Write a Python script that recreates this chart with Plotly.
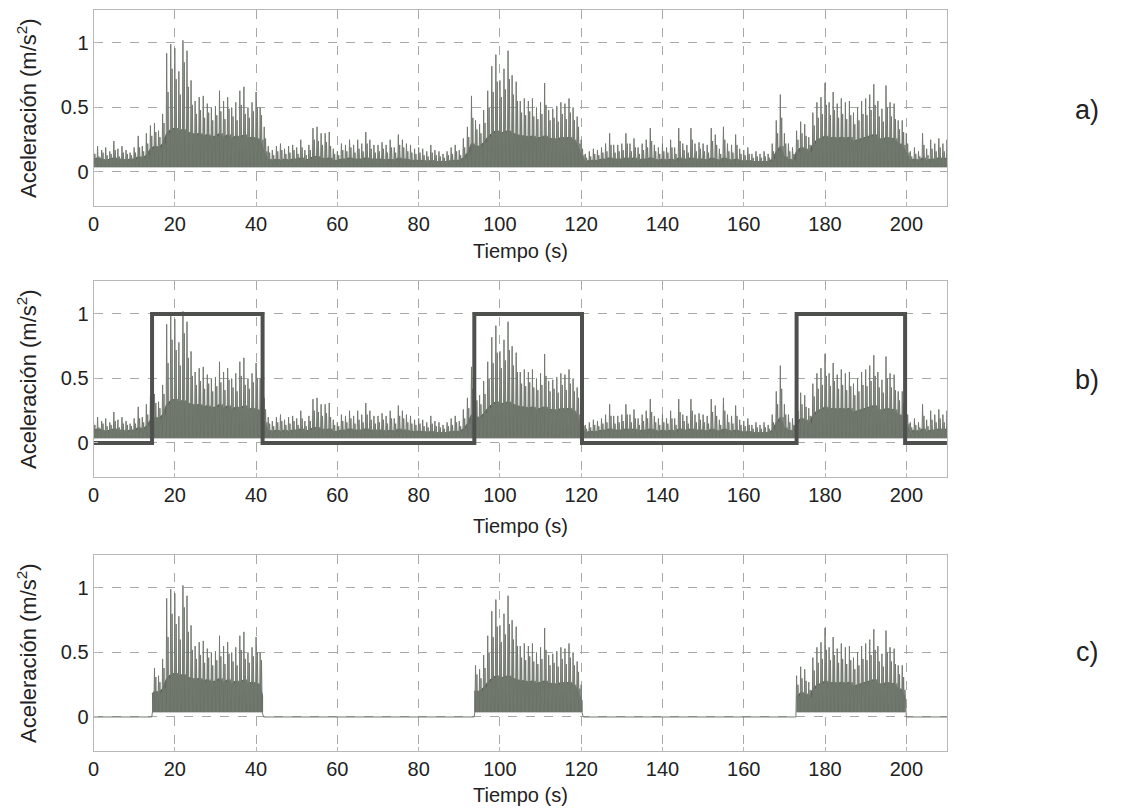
import plotly.graph_objects as go

# ---------------- data ----------------
time_s = list(range(0, 211))

# highest spike of the acceleration signal in each second (m/s^2)
peak = [
    0.18, 0.20, 0.17, 0.19, 0.16, 0.24, 0.18, 0.20, 0.17, 0.15,
    0.19, 0.28, 0.20, 0.30, 0.36, 0.38, 0.32, 0.45, 0.92, 0.99,
    0.96, 0.78, 1.02, 0.94, 0.71, 0.55, 0.58, 0.59, 0.53, 0.50,
    0.51, 0.63, 0.55, 0.58, 0.50, 0.54, 0.63, 0.66, 0.50, 0.54,
    0.62, 0.50, 0.35, 0.20, 0.17, 0.20, 0.22, 0.18, 0.20, 0.21,
    0.19, 0.25, 0.17, 0.21, 0.34, 0.35, 0.30, 0.30, 0.31, 0.18,
    0.16, 0.22, 0.21, 0.25, 0.21, 0.25, 0.22, 0.31, 0.25, 0.21,
    0.21, 0.23, 0.21, 0.25, 0.19, 0.29, 0.25, 0.22, 0.21, 0.18,
    0.19, 0.18, 0.16, 0.21, 0.17, 0.16, 0.14, 0.16, 0.19, 0.21,
    0.17, 0.26, 0.35, 0.59, 0.40, 0.37, 0.48, 0.63, 0.82, 0.91,
    0.71, 0.80, 0.94, 0.75, 0.70, 0.55, 0.57, 0.55, 0.57, 0.50,
    0.54, 0.69, 0.48, 0.49, 0.51, 0.54, 0.53, 0.57, 0.50, 0.43,
    0.25, 0.14, 0.16, 0.18, 0.17, 0.19, 0.22, 0.30, 0.21, 0.21,
    0.22, 0.30, 0.22, 0.26, 0.19, 0.22, 0.25, 0.34, 0.21, 0.19,
    0.22, 0.19, 0.25, 0.19, 0.34, 0.22, 0.21, 0.34, 0.22, 0.23,
    0.22, 0.21, 0.34, 0.29, 0.18, 0.35, 0.22, 0.21, 0.29, 0.18,
    0.17, 0.19, 0.14, 0.16, 0.14, 0.16, 0.14, 0.22, 0.40, 0.60,
    0.30, 0.22, 0.19, 0.32, 0.39, 0.37, 0.27, 0.46, 0.54, 0.58,
    0.69, 0.54, 0.62, 0.53, 0.57, 0.54, 0.55, 0.46, 0.50, 0.55,
    0.57, 0.60, 0.68, 0.55, 0.49, 0.67, 0.54, 0.53, 0.40, 0.40,
    0.30, 0.16, 0.19, 0.16, 0.30, 0.18, 0.25, 0.22, 0.26, 0.22, 0.25,
]

# typical secondary spikes in each second
mid = [
    0.14, 0.12, 0.15, 0.13, 0.14, 0.17, 0.12, 0.15, 0.14, 0.13,
    0.15, 0.19, 0.16, 0.22, 0.28, 0.31, 0.27, 0.38, 0.62, 0.80,
    0.72, 0.60, 0.85, 0.66, 0.52, 0.45, 0.48, 0.42, 0.46, 0.40,
    0.44, 0.47, 0.41, 0.49, 0.43, 0.40, 0.52, 0.45, 0.42, 0.47,
    0.50, 0.44, 0.26, 0.15, 0.13, 0.16, 0.17, 0.14, 0.15, 0.17,
    0.14, 0.19, 0.13, 0.17, 0.25, 0.24, 0.21, 0.23, 0.20, 0.14,
    0.13, 0.17, 0.16, 0.19, 0.15, 0.18, 0.16, 0.22, 0.18, 0.15,
    0.16, 0.18, 0.15, 0.19, 0.15, 0.21, 0.19, 0.16, 0.15, 0.14,
    0.15, 0.13, 0.12, 0.15, 0.13, 0.12, 0.11, 0.13, 0.14, 0.16,
    0.13, 0.19, 0.27, 0.42, 0.33, 0.30, 0.38, 0.50, 0.62, 0.70,
    0.58, 0.64, 0.72, 0.60, 0.55, 0.46, 0.44, 0.47, 0.43, 0.41,
    0.45, 0.52, 0.40, 0.42, 0.39, 0.45, 0.41, 0.46, 0.40, 0.35,
    0.18, 0.11, 0.12, 0.14, 0.13, 0.15, 0.16, 0.21, 0.15, 0.16,
    0.17, 0.22, 0.16, 0.19, 0.14, 0.17, 0.19, 0.24, 0.16, 0.14,
    0.16, 0.15, 0.19, 0.14, 0.24, 0.17, 0.15, 0.25, 0.16, 0.18,
    0.16, 0.15, 0.24, 0.21, 0.14, 0.25, 0.16, 0.15, 0.21, 0.14,
    0.13, 0.14, 0.11, 0.12, 0.11, 0.12, 0.11, 0.16, 0.30, 0.42,
    0.22, 0.16, 0.14, 0.25, 0.30, 0.28, 0.21, 0.36, 0.42, 0.45,
    0.52, 0.44, 0.48, 0.42, 0.45, 0.41, 0.44, 0.37, 0.40, 0.45,
    0.44, 0.48, 0.52, 0.43, 0.39, 0.50, 0.43, 0.41, 0.33, 0.31,
    0.22, 0.12, 0.14, 0.12, 0.21, 0.13, 0.18, 0.16, 0.19, 0.16, 0.18,
]

# level of the dense (dark) body of the signal in each second
core = [
    0.10, 0.11, 0.10, 0.09, 0.10, 0.11, 0.10, 0.10, 0.09, 0.10,
    0.10, 0.12, 0.11, 0.13, 0.18, 0.20, 0.19, 0.22, 0.30, 0.33,
    0.34, 0.32, 0.33, 0.31, 0.30, 0.29, 0.30, 0.28, 0.29, 0.27,
    0.28, 0.30, 0.27, 0.29, 0.26, 0.28, 0.27, 0.29, 0.26, 0.27,
    0.26, 0.25, 0.16, 0.10, 0.09, 0.10, 0.09, 0.10, 0.09, 0.10,
    0.10, 0.11, 0.09, 0.10, 0.12, 0.12, 0.11, 0.10, 0.11, 0.09,
    0.09, 0.10, 0.10, 0.11, 0.10, 0.10, 0.10, 0.11, 0.10, 0.10,
    0.10, 0.10, 0.09, 0.10, 0.09, 0.11, 0.10, 0.10, 0.09, 0.09,
    0.09, 0.09, 0.08, 0.09, 0.08, 0.08, 0.08, 0.08, 0.09, 0.09,
    0.09, 0.11, 0.15, 0.22, 0.20, 0.20, 0.23, 0.27, 0.30, 0.32,
    0.30, 0.31, 0.32, 0.30, 0.29, 0.28, 0.28, 0.27, 0.28, 0.26,
    0.27, 0.28, 0.26, 0.26, 0.25, 0.27, 0.26, 0.27, 0.25, 0.22,
    0.13, 0.08, 0.09, 0.09, 0.09, 0.10, 0.10, 0.11, 0.10, 0.10,
    0.10, 0.11, 0.10, 0.11, 0.09, 0.10, 0.10, 0.11, 0.10, 0.09,
    0.10, 0.09, 0.10, 0.09, 0.11, 0.10, 0.10, 0.11, 0.10, 0.10,
    0.10, 0.09, 0.11, 0.10, 0.09, 0.11, 0.10, 0.09, 0.10, 0.09,
    0.08, 0.09, 0.08, 0.08, 0.08, 0.08, 0.08, 0.10, 0.16, 0.20,
    0.12, 0.10, 0.09, 0.16, 0.19, 0.18, 0.15, 0.22, 0.25, 0.26,
    0.28, 0.26, 0.27, 0.26, 0.27, 0.26, 0.27, 0.24, 0.25, 0.26,
    0.27, 0.28, 0.29, 0.26, 0.25, 0.27, 0.26, 0.26, 0.22, 0.21,
    0.15, 0.09, 0.10, 0.09, 0.11, 0.09, 0.10, 0.10, 0.11, 0.10, 0.11,
]

base_level = 0.04          # minimum of the signal (thick lower edge)

# detection windows (square wave in b, kept signal in c)
win_start = [14.4, 93.7, 173.0]
win_end = [41.6, 120.2, 199.7]
win_low = 0.0
win_high = 1.0

x_ticks = [0, 20, 40, 60, 80, 100, 120, 140, 160, 180, 200]
y_ticks = [0, 0.5, 1]
y_tick_text = ["0", "0.5", "1"]
panel_labels = ["a)", "b)", "c)"]
x_title = "Tiempo (s)"
y_title = "Aceleración (m/s<sup>2</sup>)"

# ---------------- build traces ----------------
step = 1.0 / 6.0
sig_x, sig_y = [], []
for t, p, m, c in zip(time_s, peak, mid, core):
    vals = [p, base_level, m, base_level, c, base_level]
    for k, v in enumerate(vals):
        sig_x.append(t + k * step)
        sig_y.append(v)


def in_window(x):
    return any(s <= x <= e for s, e in zip(win_start, win_end))


sig_c_y = [y if in_window(x) else 0.0 for x, y in zip(sig_x, sig_y)]


def body_polygon(t_list, c_list):
    xs = list(t_list) + list(reversed(t_list))
    ys = list(c_list) + [base_level] * len(t_list)
    return xs, ys


sq_x, sq_y = [0], [win_low]
for s, e in zip(win_start, win_end):
    sq_x += [s, s, e, e]
    sq_y += [win_low, win_high, win_high, win_low]
sq_x.append(210)
sq_y.append(win_low)

W, H = 1126, 809
x_dom = [88 / W, 946 / W]
zero_px = [172, 443, 717]
unit_px = 129
y_range = [-0.265, 1.255]
y_doms = []
for z in zero_px:
    top = z - y_range[1] * unit_px
    bot = z - y_range[0] * unit_px
    y_doms.append([1 - bot / H, 1 - top / H])

spike_color = "rgb(114,121,111)"
body_color = "rgb(86,94,84)"

fig = go.Figure()

full_bx, full_by = body_polygon(time_s, core)
for ax in ["", "2"]:
    fig.add_trace(go.Scatter(x=full_bx, y=full_by, mode="lines", fill="toself",
                             fillcolor=body_color, line=dict(color=body_color, width=1),
                             xaxis="x" + ax, yaxis="y" + ax, showlegend=False,
                             hoverinfo="skip"))
    fig.add_trace(go.Scatter(x=sig_x, y=sig_y, mode="lines",
                             line=dict(color=spike_color, width=1),
                             xaxis="x" + ax, yaxis="y" + ax, showlegend=False))

fig.add_trace(go.Scatter(x=sq_x, y=sq_y, mode="lines",
                         line=dict(color="rgb(78,80,78)", width=4),
                         xaxis="x2", yaxis="y2", showlegend=False))

# panel c: only the windows
for s, e in zip(win_start, win_end):
    tw = [s] + [t for t in time_s if s < t < e] + [e]
    cw = [core[min(int(round(t)), len(core) - 1)] for t in tw]
    bx, by = body_polygon(tw, cw)
    fig.add_trace(go.Scatter(x=bx, y=by, mode="lines", fill="toself",
                             fillcolor=body_color, line=dict(color=body_color, width=1),
                             xaxis="x3", yaxis="y3", showlegend=False,
                             hoverinfo="skip"))
fig.add_trace(go.Scatter(x=sig_x, y=sig_c_y, mode="lines",
                         line=dict(color=spike_color, width=1),
                         xaxis="x3", yaxis="y3", showlegend=False))

font_family = "Liberation Sans, Arial, sans-serif"
axis_common = dict(showline=True, linecolor="#b8b8b8", linewidth=1, mirror=True,
                   showgrid=True, gridcolor="#a8a8a8", gridwidth=1, griddash="dash",
                   zeroline=False, ticks="inside", ticklen=4, tickcolor="#b8b8b8",
                   tickfont=dict(family=font_family, size=20, color="#222"))

layout = dict(width=W, height=H, margin=dict(l=0, r=0, t=0, b=0),
              paper_bgcolor="white", plot_bgcolor="white",
              font=dict(family=font_family, color="#222"))
annotations = []
title_px = [251, 526, 795]
label_px = [110, 380, 652]
for i in range(3):
    sx = "" if i == 0 else str(i + 1)
    layout["xaxis" + sx] = dict(axis_common, domain=x_dom, range=[0, 210],
                                tickvals=x_ticks, anchor="y" + sx)
    layout["yaxis" + sx] = dict(axis_common, domain=y_doms[i], range=y_range,
                                tickvals=y_ticks, ticktext=y_tick_text,
                                anchor="x" + sx)
    annotations.append(dict(text=x_title, xref="paper", yref="paper",
                            x=(x_dom[0] + x_dom[1]) / 2, y=1 - title_px[i] / H,
                            showarrow=False, xanchor="center", yanchor="middle",
                            font=dict(size=20, family=font_family, color="#222")))
    annotations.append(dict(text=y_title, xref="paper", yref="paper",
                            x=21 / W, y=(y_doms[i][0] + y_doms[i][1]) / 2,
                            textangle=-90, showarrow=False,
                            xanchor="center", yanchor="middle",
                            font=dict(size=22, family=font_family, color="#222")))
    annotations.append(dict(text=panel_labels[i], xref="paper", yref="paper",
                            x=1087 / W, y=1 - label_px[i] / H, showarrow=False,
                            xanchor="center", yanchor="middle",
                            font=dict(size=27, family=font_family, color="#222")))
layout["annotations"] = annotations
fig.update_layout(**layout)

fig.write_html("out.html")
